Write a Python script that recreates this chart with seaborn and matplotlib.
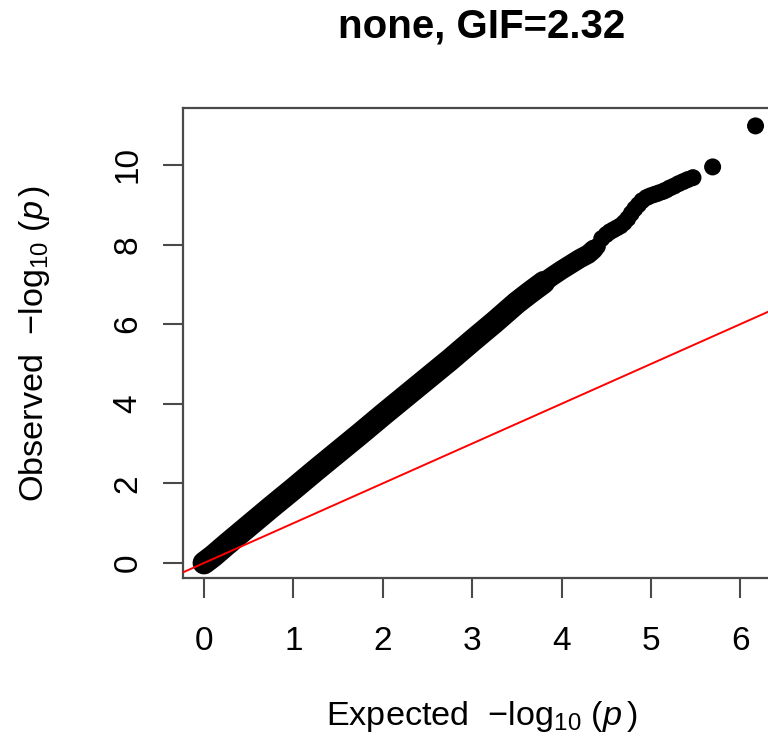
import numpy as np
import pandas as pd
import matplotlib
matplotlib.use("Agg")
import matplotlib.pyplot as plt
import seaborn as sns

# ---- data ----
# dense central band (expected, observed)
exp_band = [0.00, 0.10, 0.25, 0.50, 0.75, 1.00, 1.25, 1.50, 1.75, 2.00, 2.25,
            2.50, 2.75, 3.00, 3.25, 3.50, 3.65, 3.80]
obs_band = [0.00, 0.17, 0.46, 0.93, 1.40, 1.86, 2.33, 2.79, 3.25, 3.72, 4.18,
            4.64, 5.10, 5.58, 6.05, 6.54, 6.80, 7.05]
# upper, slightly thinner part of the band
exp_upper = [3.80, 3.90, 4.00, 4.10, 4.20, 4.30, 4.36]
obs_upper = [7.05, 7.21, 7.36, 7.50, 7.64, 7.76, 7.88]
# tail points
exp_tail = [4.40, 4.45, 4.50, 4.54, 4.58, 4.62, 4.66, 4.70, 4.74, 4.78, 4.82,
            4.86, 4.90, 4.95, 4.99, 5.04, 5.08, 5.13, 5.17, 5.21, 5.26, 5.31,
            5.36, 5.41, 5.47, 5.69, 6.17]
obs_tail = [7.95, 8.15, 8.25, 8.32, 8.37, 8.42, 8.47, 8.55, 8.65, 8.78, 8.90,
            9.00, 9.10, 9.18, 9.22, 9.26, 9.29, 9.33, 9.37, 9.42, 9.47, 9.53,
            9.58, 9.63, 9.68, 9.95, 10.98]

title = "none, GIF=2.32"
x_ticks = [0, 1, 2, 3, 4, 5, 6]
y_ticks = [0, 2, 4, 6, 8, 10]

sns.set_style("white")
plt.rcParams["font.family"] = ["Liberation Sans", "DejaVu Sans"]
plt.rcParams["mathtext.fontset"] = "custom"
plt.rcParams["mathtext.rm"] = "Liberation Sans"
plt.rcParams["mathtext.it"] = "Liberation Sans:italic"
plt.rcParams["mathtext.bf"] = "Liberation Sans:bold"
plt.rcParams["text.color"] = "black"
plt.rcParams["axes.labelcolor"] = "black"

fig = plt.figure(figsize=(7.68, 7.37), dpi=100)
ax = fig.add_axes([183 / 768, (737 - 578) / 737, 598 / 768, 470 / 737])

band = pd.DataFrame({"exp": exp_band, "obs": obs_band})
upper = pd.DataFrame({"exp": exp_upper, "obs": obs_upper})
tail = pd.DataFrame({"exp": exp_tail, "obs": obs_tail})
allpts = pd.concat([band, upper, tail], ignore_index=True)

sns.lineplot(data=band, x="exp", y="obs", ax=ax, color="black", lw=16.5,
             solid_capstyle="round", solid_joinstyle="round", sort=False)
sns.lineplot(data=upper, x="exp", y="obs", ax=ax, color="black", lw=14,
             solid_capstyle="round", solid_joinstyle="round", sort=False)
sns.scatterplot(data=allpts, x="exp", y="obs", ax=ax, color="black",
                s=150, edgecolor="none", linewidth=0)

ax.axline((0, 0), slope=1, color="red", lw=1.4, zorder=5)

ax.set_xlim(-0.235, 6.455)
ax.set_ylim(-0.377, 11.43)
ax.set_xticks(x_ticks)
ax.set_yticks(y_ticks)
ax.set_xticklabels([str(v) for v in x_ticks])
ax.set_yticklabels([str(v) for v in y_ticks])

spine_col = "#4a4a4a"
for sp in ax.spines.values():
    sp.set_visible(True)
    sp.set_color(spine_col)
    sp.set_linewidth(1.6)

ax.tick_params(axis="both", which="major", direction="out", length=14.4,
               width=1.5, color=spine_col, labelsize=24, labelcolor="black",
               bottom=True, left=True, top=False, right=False)
ax.tick_params(axis="x", pad=20)
ax.tick_params(axis="y", pad=14, labelrotation=90)
for lab in ax.get_yticklabels():
    lab.set_va("center")

ax.set_xlabel(r"Expected  $-\log_{10}\,(p\,)$", fontsize=24.7, color="black")
ax.set_ylabel(r"Observed  $-\log_{10}\,(p\,)$", fontsize=24.7, color="black")
ax.xaxis.label.set_va("center")
ax.yaxis.label.set_va("center")
ax.xaxis.set_label_coords(0.5, (578 - 716) / 470)
ax.yaxis.set_label_coords((35 - 183) / 598, 0.5)

ax.set_title(title, fontsize=29, fontweight="bold", y=(578 - 27) / 470,
             va="center", pad=0, color="black")

fig.savefig("out.png", dpi=100, facecolor="white")
